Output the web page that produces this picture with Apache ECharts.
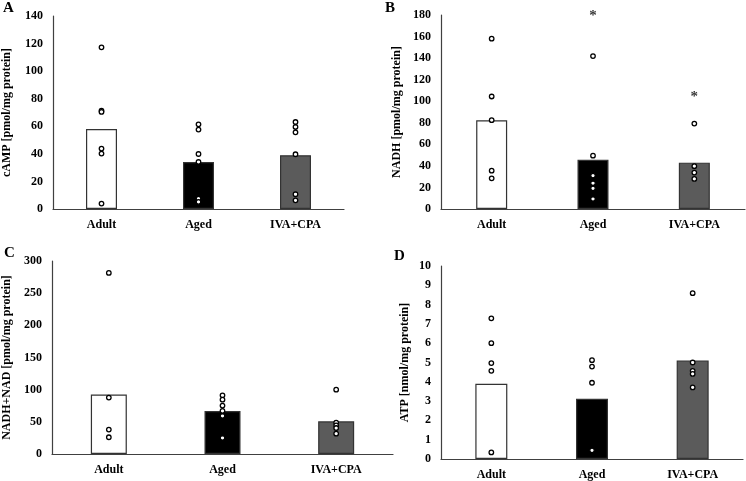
<!DOCTYPE html>
<html>
<head>
<meta charset="utf-8">
<script src="https://cdn.jsdelivr.net/npm/echarts@6/dist/echarts.min.js"></script>
<style>
html,body{margin:0;padding:0;background:#fff;}
#c{width:746px;height:481px;}
</style>
</head>
<body>
<div id="c"></div>
<script>
const categories = ['Adult', 'Aged', 'IVA+CPA'];

// Panel A: cAMP
const campMeans = [58.0, 34.1, 39.0];
const campAdult = [117.3, 71.3, 70.4, 43.8, 40.2, 3.9];
const campAged = [61.4, 57.6, 39.9, 34.1, 7.5, 5.1];
const campIva = [63.1, 59.5, 55.6, 39.7, 10.7, 6.3];

// Panel B: NADH
const nadhMeans = [82.4, 45.8, 43.0];
const nadhAdult = [158.0, 104.4, 82.4, 35.6, 28.5];
const nadhAged = [141.9, 49.5, 31.0, 23.9, 19.2, 9.3];
const nadhIva = [79.3, 39.7, 33.8, 27.9];
const nadhStars = [[1, 181.5], [2, 106.5]];

// Panel C: NADH+NAD
const totMeans = [92.5, 66.9, 50.8];
const totAdult = [281.4, 87.7, 37.9, 26.0];
const totAged = [91.2, 84.5, 75.2, 66.9, 59.1, 24.9];
const totIva = [100.0, 48.8, 44.6, 40.4, 31.6];

// Panel D: ATP
const atpMeans = [3.9, 3.12, 5.1];
const atpAdult = [7.29, 6.0, 4.97, 4.57, 0.34];
const atpAged = [5.12, 4.79, 3.95, 0.45];
const atpIva = [8.59, 5.0, 4.57, 4.41, 3.71];

const yTicksA = {min: 0, max: 140, interval: 20};
const yTicksB = {min: 0, max: 180, interval: 20};
const yTicksC = {min: 0, max: 300, interval: 50};
const yTicksD = {min: 0, max: 10, interval: 1};

const barColors = ['#ffffff', '#000000', '#5b5b5b'];
const FONT = '"Liberation Serif", "Times New Roman", serif';

function pts(groups) {
  const out = [];
  groups.forEach((g, i) => g.forEach(v => out.push([i, v])));
  return out;
}

const panels = [
  {grid: {left: 51, top: 16, width: 293, height: 193}, ticks: yTicksA, name: 'cAMP [pmol/mg protein]', gap: 40, means: campMeans, points: pts([campAdult, campAged, campIva]), barW: 31},
  {grid: {left: 441, top: 15, width: 304, height: 194}, ticks: yTicksB, name: 'NADH [pmol/mg protein]', gap: 38, means: nadhMeans, points: pts([nadhAdult, nadhAged, nadhIva]), barW: 31, stars: nadhStars},
  {grid: {left: 50, top: 261, width: 343, height: 193}, ticks: yTicksC, name: 'NADH+NAD [pmol/mg protein]', gap: 39, means: totMeans, points: pts([totAdult, totAged, totIva]), barW: 36},
  {grid: {left: 441, top: 266, width: 302, height: 193}, ticks: yTicksD, name: 'ATP [nmol/mg protein]', gap: 30, means: atpMeans, points: pts([atpAdult, atpAged, atpIva]), barW: 32}
];

const option = {
  backgroundColor: '#fff',
  animation: false,
  grid: [], xAxis: [], yAxis: [], series: [],
  graphic: [
    {type: 'text', left: 3, top: 1, style: {text: 'A', font: 'bold 15px ' + FONT, fill: '#000'}},
    {type: 'text', left: 385, top: 1, style: {text: 'B', font: 'bold 15px ' + FONT, fill: '#000'}},
    {type: 'text', left: 4, top: 246, style: {text: 'C', font: 'bold 15px ' + FONT, fill: '#000'}},
    {type: 'text', left: 394, top: 249, style: {text: 'D', font: 'bold 15px ' + FONT, fill: '#000'}}
  ]
};

panels.forEach((p, i) => {
  option.grid.push(Object.assign({containLabel: false}, p.grid));
  option.xAxis.push({
    type: 'category', gridIndex: i, data: categories,
    axisLine: {lineStyle: {color: '#404040', width: 1.2}},
    axisTick: {show: false},
    axisLabel: {color: '#000', fontFamily: FONT, fontWeight: 'bold', fontSize: 12, margin: 10},
    splitLine: {show: false}
  });
  option.yAxis.push({
    type: 'value', gridIndex: i,
    min: p.ticks.min, max: p.ticks.max, interval: p.ticks.interval,
    name: p.name, nameLocation: 'middle', nameGap: p.gap,
    nameTextStyle: {color: '#000', fontFamily: FONT, fontWeight: 'bold', fontSize: 12},
    axisLine: {show: true, lineStyle: {color: '#404040', width: 1.2}},
    axisTick: {show: false},
    axisLabel: {color: '#000', fontFamily: FONT, fontWeight: 'bold', fontSize: 12, margin: 10},
    splitLine: {show: false}
  });
  option.series.push({
    type: 'bar', xAxisIndex: i, yAxisIndex: i, barWidth: p.barW,
    data: p.means.map((v, k) => ({value: v, itemStyle: {color: barColors[k], borderColor: '#333', borderWidth: 1.2}})),
    z: 2
  });
  option.series.push({
    type: 'scatter', xAxisIndex: i, yAxisIndex: i, symbol: 'circle', symbolSize: 4.5,
    itemStyle: {color: '#fff', borderColor: '#000', borderWidth: 1.3, opacity: 1},
    data: p.points, z: 3
  });
  if (p.stars) {
    option.series.push({
      type: 'scatter', xAxisIndex: i, yAxisIndex: i, symbol: 'circle', symbolSize: 1,
      clip: false,
      itemStyle: {color: 'rgba(0,0,0,0)'},
      label: {show: true, position: 'inside', formatter: '*', color: '#000', fontFamily: FONT, fontWeight: 'bold', fontSize: 15, offset: [0, 3]},
      data: p.stars, z: 4
    });
  }
});

const chart = echarts.init(document.getElementById('c'), null, {renderer: 'canvas'});
chart.setOption(option);
</script>
</body>
</html>
